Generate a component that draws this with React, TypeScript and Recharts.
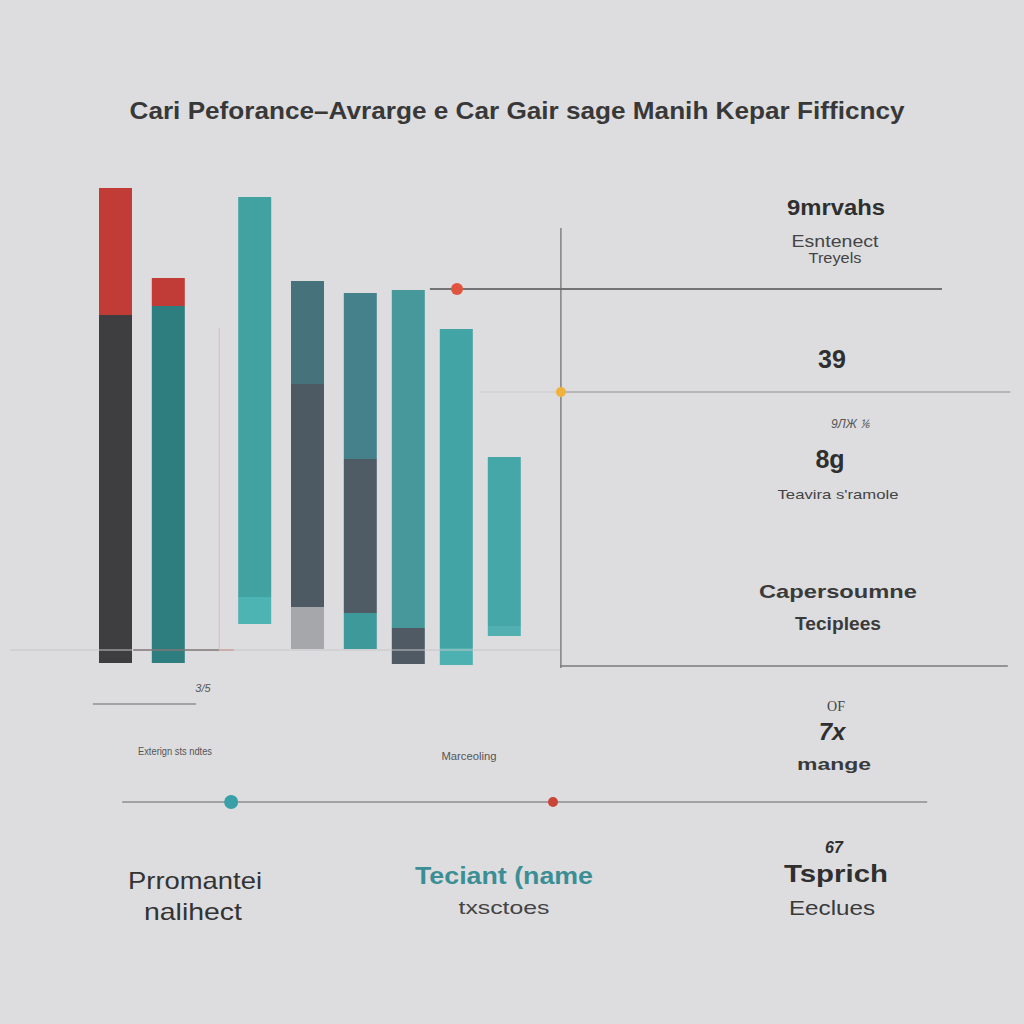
import { ComposedChart, Bar, XAxis, YAxis, Cell, ReferenceLine, ReferenceDot } from "recharts";

// bar positions along the x axis (gap after the second bar)
const slots = [0, 1.1, 2.9, 4, 5.1, 6.1, 7.1, 8.1];
// floating bars: offset from zero, then stacked segment heights
const baseValues = [7.4, 7.4, 15.2, 10.2, 10.2, 7.2, 7, 12.8];
const lowerValues = [69.6, 71.4, 5.4, 8.4, 7.2, 7.2, 3.4, 2];
const middleValues = [25.4, 5.6, 80, 44.6, 30.8, 67.6, 63.8, 33.8];
const upperValues = [0, 0, 0, 20.6, 33.2, 0, 0, 0];

const lowerColors = ["#3e3e40", "#2e7e80", "#4eb4b3", "#a5a7aa", "#3e999b", "#4f5a64", "#4db1b2", "#52b0b1"];
const middleColors = ["#c13b37", "#c13b37", "#42a2a2", "#4e5a63", "#505c65", "#46989b", "#43a4a6", "#46a7a8"];
const upperColors = ["none", "none", "none", "#46727b", "#45818a", "none", "none", "none"];

// guide lines [x1, x2, y1, y2] in slot / value units
const guideLines: [number, number, number, number, string, number][] = [
  [-2.19, 9.27, 10, 10, "#c6c6c8", 1],
  [0.38, 2.17, 10, 10, "#5e4c4c", 1.2],
  [2.17, 2.48, 10, 10, "#c98a82", 1],
  [2.17, 2.17, 74.4, 10, "#d2bcbc", 1],
  [6.56, 17.23, 82.2, 82.2, "#4f4f4f", 1.5],
  [7.6, 9.29, 61.6, 61.6, "#cbcbcd", 1],
  [9.29, 18.65, 61.6, 61.6, "#a9a9ab", 1.5],
  [9.29, 9.29, 94.4, 6.4, "#6a6a6a", 1.2],
  [9.27, 18.6, 6.8, 6.8, "#7a7a7c", 1.5],
  [-0.46, 1.69, -0.8, -0.8, "#6c6c6c", 1.2],
  [0.15, 16.92, -20.4, -20.4, "#8d8d8f", 1.5],
];
const guideDots: [number, number, number, string][] = [
  [7.125, 82.2, 6, "#e0533c"],
  [9.29, 61.6, 5, "#f0b23c"],
  [2.42, -20.4, 7, "#3a9fa6"],
  [9.125, -20.4, 5, "#c9453a"],
];

const data = slots.map((slot, i) => ({
  slot,
  base: baseValues[i],
  lower: lowerValues[i],
  middle: middleValues[i],
  upper: upperValues[i],
}));

type Label = { t: string; x: number; y: number; size: number; w?: number; bold?: boolean; italic?: boolean; color?: string; family?: string };

const labels: Label[] = [
  { t: "Cari Peforance–Avrarge e Car Gair sage Manih Kepar Fifficncy", x: 517, y: 119, size: 24, w: 775, bold: true, color: "#383838" },
  { t: "9mrvahs", x: 836, y: 215, size: 22, w: 98, bold: true },
  { t: "Esntenect", x: 835, y: 247, size: 17, w: 87, color: "#444" },
  { t: "Treyels", x: 835, y: 263, size: 14, w: 53, color: "#444" },
  { t: "39", x: 832, y: 368, size: 25, bold: true },
  { t: "9ЛЖ ⅙", x: 850, y: 428, size: 12, italic: true, color: "#555" },
  { t: "8g", x: 830, y: 468, size: 25, bold: true },
  { t: "Teavira s'ramole", x: 838, y: 499, size: 13, w: 121, color: "#444" },
  { t: "Capersoumne", x: 838, y: 598, size: 19, w: 158, bold: true, color: "#3a3a3a" },
  { t: "Teciplees", x: 838, y: 630, size: 18, w: 86, bold: true, color: "#3a3a3a" },
  { t: "OF", x: 836, y: 711, size: 14, color: "#444", family: "'Liberation Serif', serif" },
  { t: "7x", x: 832, y: 740, size: 24, bold: true, italic: true },
  { t: "mange", x: 834, y: 770, size: 17, w: 74, bold: true, color: "#3a3a3a" },
  { t: "67", x: 834, y: 853, size: 16, bold: true, italic: true },
  { t: "Tsprich", x: 836, y: 882, size: 24, w: 104, bold: true },
  { t: "Eeclues", x: 832, y: 915, size: 20, w: 86, color: "#3a3a3a" },
  { t: "Prromantei", x: 195, y: 889, size: 24, w: 134, color: "#333" },
  { t: "nalihect", x: 193, y: 920, size: 24, w: 98, color: "#333" },
  { t: "Teciant (name", x: 504, y: 884, size: 23, w: 178, bold: true, color: "#3b8f94" },
  { t: "txsctoes", x: 504, y: 914, size: 19, w: 91, color: "#444" },
  { t: "Exterign sts ndtes", x: 175, y: 755, size: 10, w: 74, color: "#555" },
  { t: "Marceoling", x: 469, y: 760, size: 10, w: 55, color: "#555" },
  { t: "3/5", x: 203, y: 692, size: 11, italic: true, color: "#555" },
];

export default function App() {
  return (
    <div style={{ position: "relative", width: 1024, height: 1024, background: "#dddde0", overflow: "hidden" }}>
      <style>{"body{margin:0}"}</style>
      <div style={{ position: "absolute", left: 0, top: 0 }}>
        <ComposedChart width={1024} height={1024} data={data} margin={{ top: 150, right: 0, bottom: 174, left: 0 }}>
          <XAxis dataKey="slot" type="number" domain={[-115 / 48, 909 / 48]} allowDataOverflow hide />
          <YAxis type="number" domain={[-30, 110]} allowDataOverflow hide />
          {guideLines.map(([x1, x2, y1, y2, c, w], i) => (
            <ReferenceLine
              key={`g${i}`}
              segment={[{ x: x1, y: y1 }, { x: x2, y: y2 }]}
              stroke={c}
              strokeWidth={w}
              ifOverflow="visible"
            />
          ))}
          <Bar dataKey="base" stackId="s" fill="none" barSize={33} isAnimationActive={false} />
          <Bar dataKey="lower" stackId="s" barSize={33} isAnimationActive={false}>
            {data.map((_, i) => <Cell key={i} fill={lowerColors[i]} />)}
          </Bar>
          <Bar dataKey="middle" stackId="s" barSize={33} isAnimationActive={false}>
            {data.map((_, i) => <Cell key={i} fill={middleColors[i]} />)}
          </Bar>
          <Bar dataKey="upper" stackId="s" barSize={33} isAnimationActive={false}>
            {data.map((_, i) => <Cell key={i} fill={upperColors[i]} />)}
          </Bar>
          {guideDots.map(([x, y, r, c], i) => (
            <ReferenceDot key={`d${i}`} x={x} y={y} r={r} fill={c} stroke="none" ifOverflow="visible" />
          ))}
        </ComposedChart>
      </div>
      <svg width={1024} height={1024} style={{ position: "absolute", left: 0, top: 0, pointerEvents: "none" }}>
        {labels.map((l, i) => (
          <text
            key={i}
            x={l.x}
            y={l.y}
            textAnchor="middle"
            fontSize={l.size}
            fontWeight={l.bold ? "bold" : "normal"}
            fontStyle={l.italic ? "italic" : "normal"}
            fill={l.color ?? "#2f2f2f"}
            fontFamily={l.family ?? "'Liberation Sans', Arial, sans-serif"}
            textLength={l.w}
            lengthAdjust={l.w ? "spacingAndGlyphs" : undefined}
          >
            {l.t}
          </text>
        ))}
      </svg>
    </div>
  );
}
